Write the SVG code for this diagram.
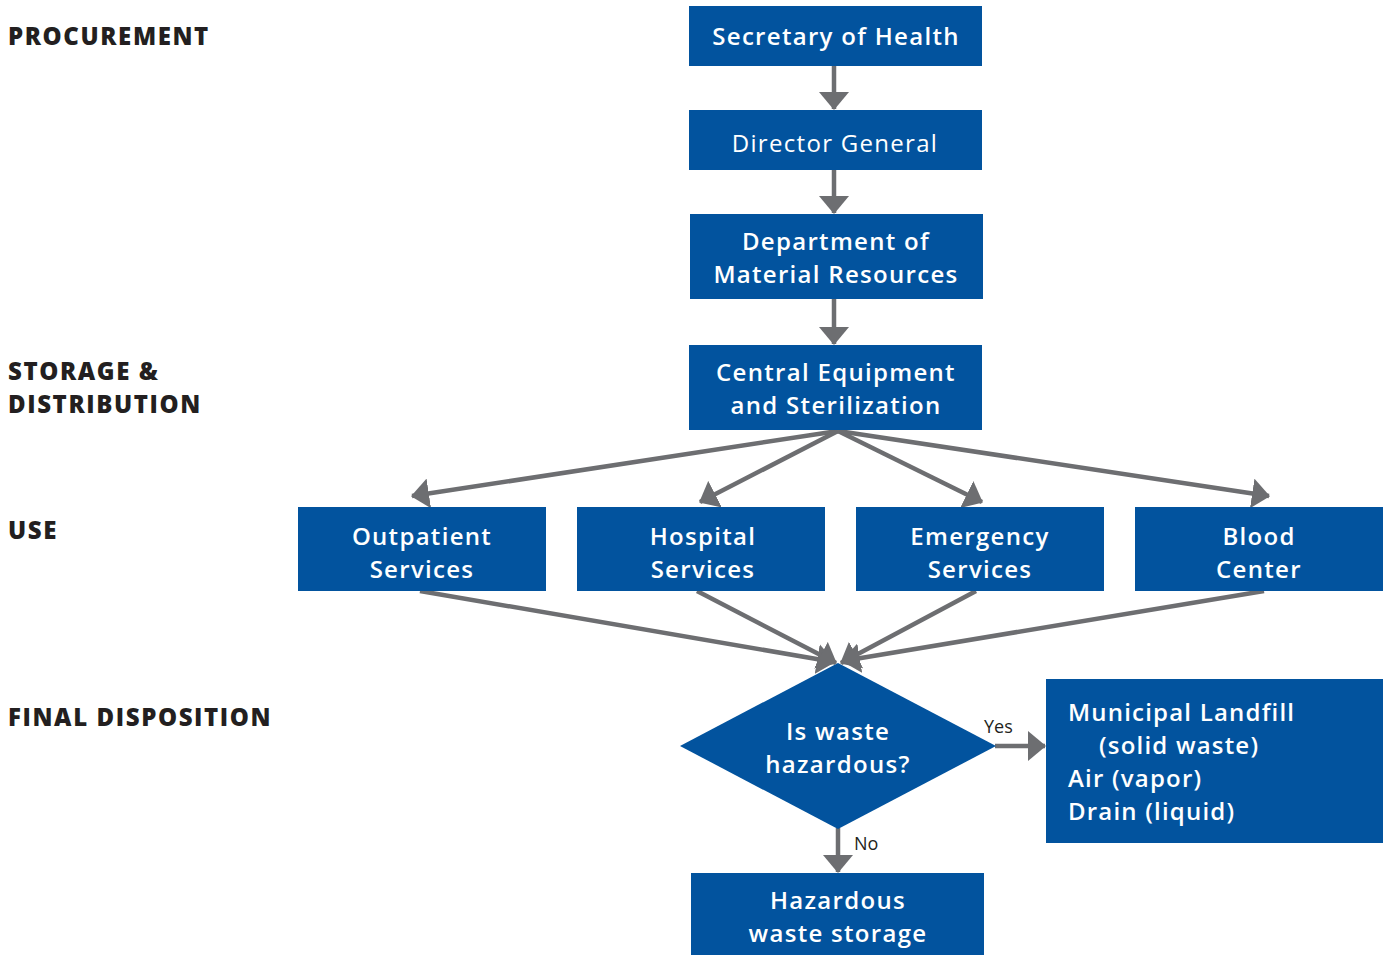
<svg xmlns="http://www.w3.org/2000/svg" width="1385" height="955" viewBox="0 0 1385 955">
<style>
.box{fill:#02539E}
.t{font-family:"Open Sans","Liberation Sans",sans-serif;font-size:24px;font-weight:600;letter-spacing:1.3px;fill:#FFFFFF;text-anchor:middle}
.tl{font-family:"Open Sans","Liberation Sans",sans-serif;font-size:24px;font-weight:600;letter-spacing:1.2px;fill:#FFFFFF}
.tb{font-weight:400}
.lab{font-family:"Open Sans","Liberation Sans",sans-serif;font-size:24px;font-weight:800;letter-spacing:1.6px;fill:#231F20}
.small{font-family:"Open Sans","Liberation Sans",sans-serif;font-size:18px;font-weight:400;fill:#231F20}
.c{stroke:#6D6E71;stroke-width:4.5;fill:none}
</style>
<defs>
<marker id="ah" markerUnits="userSpaceOnUse" viewBox="0 0 18 30" markerWidth="18" markerHeight="30" refX="17" refY="15" orient="auto">
<path d="M0,0 L18,15 L0,30 z" fill="#6D6E71"/>
</marker>
</defs>
<rect width="1385" height="955" fill="#FFFFFF"/>
<g id="labels">
<text class="lab" x="8" y="45">PROCUREMENT</text>
<text class="lab" x="8" y="380">STORAGE &amp;</text>
<text class="lab" x="8" y="413">DISTRIBUTION</text>
<text class="lab" x="8" y="539">USE</text>
<text class="lab" x="8" y="726">FINAL DISPOSITION</text>
</g>
<g id="connectors">
<line class="c" x1="834" y1="66" x2="834" y2="109" marker-end="url(#ah)"/>
<line class="c" x1="834" y1="170" x2="834" y2="213" marker-end="url(#ah)"/>
<line class="c" x1="834" y1="299" x2="834" y2="344" marker-end="url(#ah)"/>
<line class="c" x1="838" y1="431" x2="412" y2="496" marker-end="url(#ah)"/>
<line class="c" x1="838" y1="431" x2="700" y2="502" marker-end="url(#ah)"/>
<line class="c" x1="838" y1="431" x2="982" y2="502" marker-end="url(#ah)"/>
<line class="c" x1="838" y1="431" x2="1269" y2="496" marker-end="url(#ah)"/>
<line class="c" x1="420" y1="591" x2="834" y2="662" marker-end="url(#ah)"/>
<line class="c" x1="697" y1="591" x2="836" y2="663" marker-end="url(#ah)"/>
<line class="c" x1="976" y1="591" x2="841" y2="663" marker-end="url(#ah)"/>
<line class="c" x1="1264" y1="591" x2="843" y2="661" marker-end="url(#ah)"/>
<line class="c" x1="995" y1="746" x2="1045" y2="746" marker-end="url(#ah)"/>
<line class="c" x1="838" y1="828" x2="838" y2="872" marker-end="url(#ah)"/>
<text class="small" x="984" y="733">Yes</text>
<text class="small" x="854" y="850">No</text>
</g>
<g id="secretary">
<rect class="box" x="689" y="6" width="293" height="60"/>
<text class="t" x="836" y="45">Secretary of Health</text>
</g>
<g id="director">
<rect class="box" x="689" y="110" width="293" height="60"/>
<text class="t tb" x="835" y="152">Director General</text>
</g>
<g id="department">
<rect class="box" x="690" y="214" width="293" height="85"/>
<text class="t" x="836" y="250">Department of</text>
<text class="t" x="836" y="283">Material Resources</text>
</g>
<g id="central">
<rect class="box" x="689" y="345" width="293" height="85"/>
<text class="t" x="836" y="381">Central Equipment</text>
<text class="t" x="836" y="414">and Sterilization</text>
</g>
<g id="outpatient">
<rect class="box" x="298" y="507" width="248" height="84"/>
<text class="t" x="422" y="545">Outpatient</text>
<text class="t" x="422" y="578">Services</text>
</g>
<g id="hospital">
<rect class="box" x="577" y="507" width="248" height="84"/>
<text class="t" x="703" y="545">Hospital</text>
<text class="t" x="703" y="578">Services</text>
</g>
<g id="emergency">
<rect class="box" x="856" y="507" width="248" height="84"/>
<text class="t" x="980" y="545">Emergency</text>
<text class="t" x="980" y="578">Services</text>
</g>
<g id="blood">
<rect class="box" x="1135" y="507" width="248" height="84"/>
<text class="t" x="1259" y="545">Blood</text>
<text class="t" x="1259" y="578">Center</text>
</g>
<g id="decision">
<polygon class="box" points="838,663 996,746 838,829 680,746"/>
<text class="t" x="838" y="740">Is waste</text>
<text class="t" x="838" y="773">hazardous?</text>
</g>
<g id="municipal">
<rect class="box" x="1046" y="679" width="337" height="164"/>
<text class="tl" x="1068" y="721">Municipal Landfill</text>
<text class="tl" x="1099" y="754">(solid waste)</text>
<text class="tl" x="1068" y="787">Air (vapor)</text>
<text class="tl" x="1068" y="820">Drain (liquid)</text>
</g>
<g id="hazardous">
<rect class="box" x="691" y="873" width="293" height="82"/>
<text class="t" x="838" y="909">Hazardous</text>
<text class="t" x="838" y="942">waste storage</text>
</g>
</svg>
